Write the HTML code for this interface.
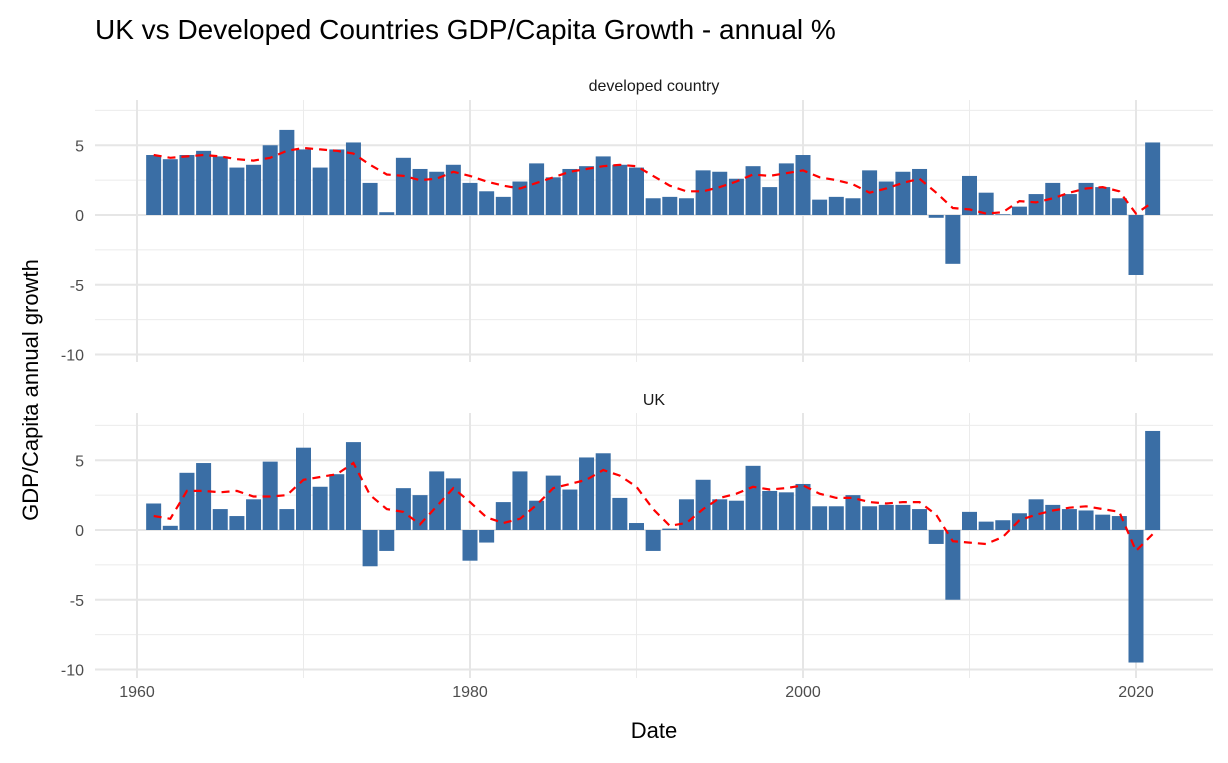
<!DOCTYPE html>
<html><head><meta charset="utf-8">
<style>
body{margin:0;background:#fff;}
svg text{font-family:"Liberation Sans",sans-serif;}
</style></head>
<body>
<svg id="chart" width="1228" height="758" viewBox="0 0 1228 758" xmlns="http://www.w3.org/2000/svg">
<text x="95" y="39" font-size="28" fill="#000">UK vs Developed Countries GDP/Capita Growth - annual %</text>
<text transform="translate(38,390) rotate(-90)" text-anchor="middle" font-size="22" fill="#000">GDP/Capita annual growth</text>
<text x="654" y="738" text-anchor="middle" font-size="22" fill="#000">Date</text>
<g id="panels"></g>
</svg>
<script>
const years = [];
for (let y = 1961; y <= 2021; y++) years.push(y);
const devValues = [4.3,4.0,4.3,4.6,4.2,3.4,3.6,5.0,6.1,4.7,3.4,4.7,5.2,2.3,0.2,4.1,3.3,3.1,3.6,2.3,1.7,1.3,2.4,3.7,2.7,3.3,3.5,4.2,3.6,3.4,1.2,1.3,1.2,3.2,3.1,2.6,3.5,2.0,3.7,4.3,1.1,1.3,1.2,3.2,2.4,3.1,3.3,-0.2,-3.5,2.8,1.6,0.05,0.6,1.5,2.3,1.5,2.3,2.0,1.2,-4.3,5.2];
const devSmooth = [4.3,4.1,4.2,4.3,4.2,4.0,3.9,4.1,4.6,4.8,4.7,4.6,4.4,3.6,2.9,2.8,2.5,2.6,3.1,2.8,2.4,2.1,1.9,2.3,2.7,3.1,3.3,3.5,3.6,3.5,2.8,2.1,1.7,1.7,2.0,2.4,2.9,2.8,3.0,3.2,2.7,2.5,2.2,1.6,1.9,2.3,2.6,1.6,0.5,0.4,0.1,0.2,1.0,0.9,1.2,1.6,1.9,2.0,1.7,0.1,0.9];
const ukValues = [1.9,0.3,4.1,4.8,1.5,1.0,2.2,4.9,1.5,5.9,3.1,4.0,6.3,-2.6,-1.5,3.0,2.5,4.2,3.7,-2.2,-0.9,2.0,4.2,2.1,3.9,2.9,5.2,5.5,2.3,0.5,-1.5,0.1,2.2,3.6,2.2,2.1,4.6,2.8,2.7,3.3,1.7,1.7,2.5,1.7,1.8,1.8,1.5,-1.0,-5.0,1.3,0.6,0.7,1.2,2.2,1.8,1.5,1.4,1.1,1.0,-9.5,7.1];
const ukSmooth = [1.0,0.8,2.8,2.8,2.7,2.8,2.4,2.4,2.5,3.6,3.8,4.0,4.8,2.5,1.5,1.3,0.4,1.7,3.0,2.0,0.9,0.5,0.8,1.8,3.0,3.3,3.6,4.3,3.9,3.1,1.5,0.3,0.5,1.5,2.3,2.6,3.1,2.9,3.0,3.2,2.6,2.3,2.3,2.0,1.9,2.0,2.0,1.1,-0.8,-0.9,-1.0,-0.5,0.7,1.1,1.4,1.6,1.7,1.5,1.3,-1.5,-0.3];
const yTicks = [5,0,-5,-10];
const yMinor = [7.5,2.5,-2.5,-7.5];
const xTicks = [1960,1980,2000,2020];
const xMinor = [1970,1990,2010];

const NS = "http://www.w3.org/2000/svg";
const X0 = 95, X1 = 1213;
const xs = v => 137 + (v - 1960) * 16.65;
function mk(tag, attrs, parent){const e=document.createElementNS(NS,tag);for(const k in attrs)e.setAttribute(k,attrs[k]);parent.appendChild(e);return e;}
const root = document.getElementById('panels');
const panels = [
 {name:'developed', label:'developed country', top:100, bottom:362, zero:215, vals:devValues, smooth:devSmooth, stripY:91},
 {name:'uk', label:'UK', top:413, bottom:678, zero:530, vals:ukValues, smooth:ukSmooth, stripY:405}
];
const unit = 13.95;
panels.forEach((p, pi) => {
  const ys = v => p.zero - v * unit;
  const g = mk('g', {}, root);
  
  
  const st = mk('text', {x:654, y:p.stripY, 'text-anchor':'middle', 'font-size':16, fill:'#1a1a1a'}, g);
  st.textContent = p.label;
  
  
  yMinor.forEach(t => { mk('line',{x1:X0,x2:X1,y1:ys(t),y2:ys(t),stroke:'#ebebeb','stroke-width':1},g); });
  xMinor.forEach(t => { mk('line',{x1:xs(t),x2:xs(t),y1:p.top,y2:p.bottom,stroke:'#ebebeb','stroke-width':1},g); });
  yTicks.forEach(t => {
    mk('line',{x1:X0,x2:X1,y1:ys(t),y2:ys(t),stroke:'#e6e6e6','stroke-width':2},g);
    const tl = mk('text',{x:84,y:ys(t)+6,'text-anchor':'end','font-size':16,fill:'#4d4d4d'},g);
    tl.textContent = t;
    
    
  });
  xTicks.forEach(t => { mk('line',{x1:xs(t),x2:xs(t),y1:p.top,y2:p.bottom,stroke:'#e6e6e6','stroke-width':2},g); });
  p.vals.forEach((v, i) => {
    const x = xs(years[i]);
    const r = mk('rect',{x:x-7.5,width:15,y:Math.min(ys(v),ys(0)),height:Math.abs(ys(v)-ys(0)),fill:'#3a6ea5'},g);
    
    
  });
  const d = p.smooth.map((v,i)=>(i?'L':'M')+xs(years[i]).toFixed(1)+','+ys(v).toFixed(1)).join(' ');
  const ln = mk('path',{d:d,fill:'none',stroke:'#ff0000','stroke-width':2.2,'stroke-dasharray':'8,6'},g);
  
  
  if (pi === 1) {
    xTicks.forEach(t => {
      const xl = mk('text',{x:xs(t),y:697,'text-anchor':'middle','font-size':16,fill:'#4d4d4d'},g);
      xl.textContent = t;
      
      
    });
  }
});
</script>
</body></html>
